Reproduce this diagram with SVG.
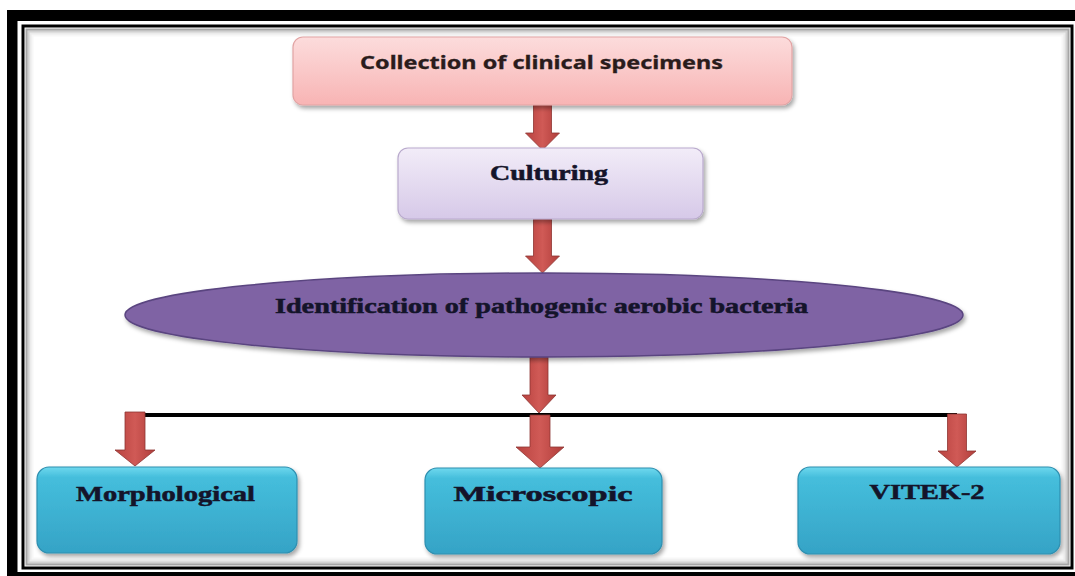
<svg xmlns="http://www.w3.org/2000/svg" width="1075" height="576" viewBox="0 0 1075 576">
<defs>
<linearGradient id="gPink" x1="0" y1="0" x2="0" y2="1">
<stop offset="0" stop-color="#fcdcdc"/><stop offset="1" stop-color="#f8b4b4"/>
</linearGradient>
<linearGradient id="gLav" x1="0" y1="0" x2="0" y2="1">
<stop offset="0" stop-color="#f2ecf8"/><stop offset="1" stop-color="#d6c9e8"/>
</linearGradient>
<linearGradient id="gTeal" x1="0" y1="0" x2="0" y2="1">
<stop offset="0" stop-color="#6fd8ee"/><stop offset="0.12" stop-color="#45bedc"/><stop offset="1" stop-color="#35a3c6"/>
</linearGradient>
<linearGradient id="gArrow" x1="0" y1="0" x2="1" y2="0">
<stop offset="0" stop-color="#b8423f"/><stop offset="0.5" stop-color="#d05a56"/><stop offset="1" stop-color="#b03d3a"/>
</linearGradient>
<filter id="sh" x="-10%" y="-20%" width="120%" height="150%">
<feDropShadow dx="2" dy="3" stdDeviation="2" flood-color="#000" flood-opacity="0.35"/>
</filter>
<style>
.box{stroke-width:1.2;filter:url(#sh)}
.pink{fill:url(#gPink);stroke:#e2a4a4}
.lav{fill:url(#gLav);stroke:#b9aacd}
.teal{fill:url(#gTeal);stroke:#2e8fb0}
.arrow{fill:url(#gArrow);stroke:#8e3532;stroke-width:0.8}
.ts{font-family:"Noto Sans","Liberation Sans",sans-serif;font-weight:bold;fill:#2a1c1c;stroke:#2a1c1c;stroke-width:0.3;text-anchor:middle}
.tr{font-family:"Liberation Serif","DejaVu Serif",serif;font-weight:bold;fill:#14142a;stroke:#14142a;stroke-width:0.5;text-anchor:middle}
</style>
</defs>
<rect x="0" y="0" width="1075" height="576" fill="#fff"/>
<rect x="7" y="10" width="1100" height="600" fill="#000"/>
<rect x="17.5" y="21" width="1100" height="551" fill="#fff"/>
<rect x="23" y="26" width="1049" height="542" fill="none" stroke="#000" stroke-width="3"/>
<rect x="26.5" y="29.5" width="1042" height="535" fill="none" stroke="#000" stroke-opacity="0.35" stroke-width="2"/>
<rect x="28.5" y="31.5" width="1038" height="531" fill="none" stroke="#000" stroke-opacity="0.18" stroke-width="2"/>
<rect x="30.5" y="33.5" width="1034" height="527" fill="none" stroke="#000" stroke-opacity="0.08" stroke-width="2"/>
<rect x="32.5" y="35.5" width="1030" height="523" fill="none" stroke="#000" stroke-opacity="0.03" stroke-width="2"/>

<g id="connectors">
<line x1="135" y1="415" x2="957" y2="415" stroke="#000" stroke-width="4"/>
<path class="arrow" d="M533.5 105 H551.5 V133 H559.5 L542.5 150 L525.5 133 H533.5 Z"/>
<path class="arrow" d="M533.5 219 H551.5 V256 H559.5 L542.5 273 L525.5 256 H533.5 Z"/>
<path class="arrow" d="M530 357 H548 V395 H556 L539 413 L522 395 H530 Z"/>
<path class="arrow" d="M530 415 H550 V447 H564 L540 468 L516 447 H530 Z"/>
<path class="arrow" d="M125 412 H145 V450 H155 L135 466 L115 450 H125 Z"/>
<path class="arrow" d="M947.5 414 H966.5 V451 H976 L957 467 L938 451 H947.5 Z"/>
</g>

<g id="node-collection">
<rect class="box pink" x="293" y="37" width="499" height="68" rx="10"/>
<text class="ts" x="541.5" y="69" font-size="17.5" textLength="363" lengthAdjust="spacingAndGlyphs">Collection of clinical specimens</text>
</g>
<g id="node-culturing">
<rect class="box lav" x="398" y="148" width="305" height="71" rx="10"/>
<text class="tr" x="549" y="180" font-size="20" textLength="118" lengthAdjust="spacingAndGlyphs">Culturing</text>
</g>
<g id="node-identification">
<ellipse cx="544" cy="315" rx="419" ry="42" fill="#7f63a4" stroke="#5a4580" stroke-width="1.5" filter="url(#sh)"/>
<text class="tr" x="541.5" y="313" font-size="20" textLength="533" lengthAdjust="spacingAndGlyphs">Identification of pathogenic aerobic bacteria</text>
</g>
<g id="node-morphological">
<rect class="box teal" x="37" y="467" width="260" height="86" rx="12"/>
<text class="tr" x="165.5" y="501" font-size="20" textLength="179" lengthAdjust="spacingAndGlyphs">Morphological</text>
</g>
<g id="node-microscopic">
<rect class="box teal" x="425" y="468" width="237" height="86" rx="12"/>
<text class="tr" x="543" y="501" font-size="20" textLength="179" lengthAdjust="spacingAndGlyphs">Microscopic</text>
</g>
<g id="node-vitek">
<rect class="box teal" x="798" y="467" width="262" height="87" rx="12"/>
<text class="tr" x="927" y="499" font-size="20" textLength="115" lengthAdjust="spacingAndGlyphs">VITEK-2</text>
</g>
</svg>
